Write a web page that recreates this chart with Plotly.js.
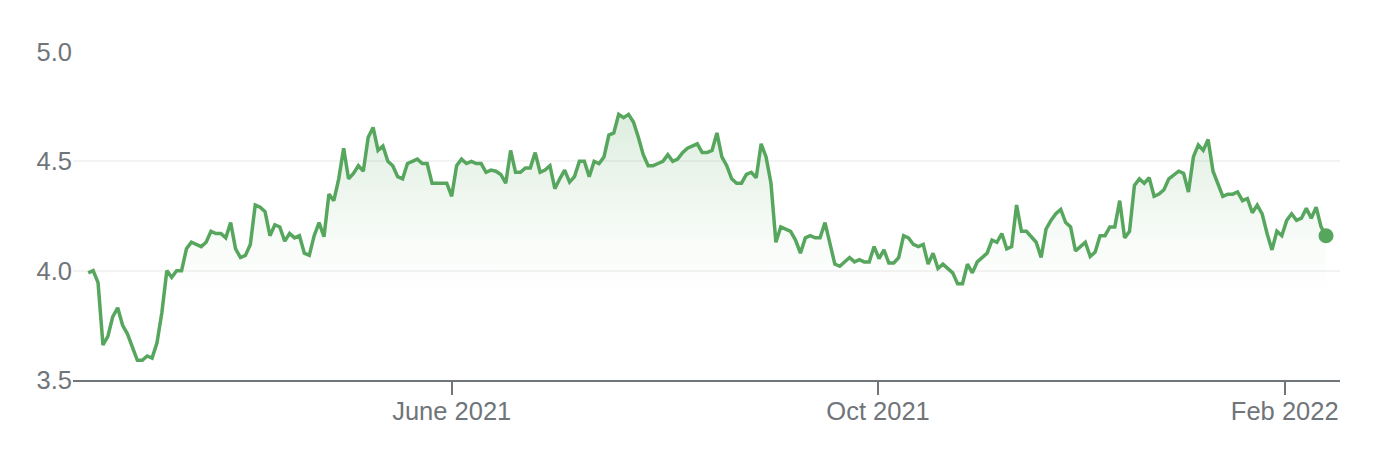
<!DOCTYPE html>
<html>
<head>
<meta charset="utf-8">
<script src="https://cdn.plot.ly/plotly-3.0.1.min.js"></script>
<style>
  html, body { margin: 0; padding: 0; background: #ffffff; }
  #chart { width: 1382px; height: 458px; }
</style>
</head>
<body>
<div id="chart"></div>
<script>
// Daily closing values (one value per trading day)
const segFebApr = [3.99, 4.00, 3.945, 3.66, 3.70, 3.79, 3.83, 3.75, 3.71, 3.65, 3.59, 3.59, 3.61, 3.60, 3.67, 3.81,
  4.00, 3.97, 4.00, 4.00, 4.10, 4.13, 4.12, 4.11, 4.13, 4.18, 4.17, 4.17, 4.15, 4.22, 4.10, 4.06];
const segAprMay = [4.07, 4.12, 4.30, 4.29, 4.27, 4.16, 4.21, 4.20, 4.135, 4.17, 4.15, 4.16, 4.08, 4.07, 4.16, 4.22,
  4.155, 4.35, 4.32, 4.42, 4.56, 4.42, 4.445, 4.48, 4.455, 4.61, 4.655, 4.55, 4.57, 4.50, 4.48];
const segMayJul = [4.43, 4.42, 4.49, 4.50, 4.51, 4.49, 4.49, 4.40, 4.40, 4.40, 4.40, 4.34, 4.48, 4.51, 4.49, 4.50,
  4.49, 4.49, 4.45, 4.46, 4.455, 4.44, 4.40, 4.55, 4.45, 4.45, 4.47, 4.47, 4.54, 4.45, 4.46, 4.48];
const segJulAug = [4.375, 4.42, 4.46, 4.405, 4.43, 4.50, 4.50, 4.43, 4.50, 4.49, 4.52, 4.62, 4.63, 4.715, 4.70, 4.715,
  4.68, 4.61, 4.53, 4.48, 4.48, 4.49, 4.50, 4.53, 4.50, 4.51, 4.54, 4.56, 4.57, 4.58, 4.54];
const segAugOct = [4.54, 4.55, 4.63, 4.52, 4.48, 4.42, 4.40, 4.40, 4.44, 4.45, 4.425, 4.58, 4.52, 4.40, 4.13, 4.20,
  4.19, 4.18, 4.14, 4.08, 4.15, 4.16, 4.15, 4.15, 4.22, 4.125, 4.03, 4.02, 4.04, 4.06, 4.04, 4.05];
const segOctNov = [4.04, 4.04, 4.11, 4.055, 4.095, 4.035, 4.035, 4.06, 4.16, 4.15, 4.12, 4.11, 4.12, 4.03, 4.08, 4.01,
  4.03, 4.01, 3.99, 3.94, 3.94, 4.03, 3.99, 4.04, 4.06, 4.08, 4.14, 4.13, 4.17, 4.10, 4.11];
const segNovDec = [4.30, 4.18, 4.18, 4.155, 4.13, 4.06, 4.19, 4.23, 4.26, 4.28, 4.22, 4.20, 4.09, 4.11, 4.13, 4.065,
  4.085, 4.16, 4.16, 4.20, 4.20, 4.32, 4.15, 4.18, 4.39, 4.42, 4.40, 4.425, 4.34, 4.35, 4.37];
const segDecFeb = [4.42, 4.44, 4.455, 4.445, 4.36, 4.52, 4.575, 4.55, 4.60, 4.455, 4.395, 4.34, 4.35, 4.35, 4.36, 4.32,
  4.33, 4.265, 4.30, 4.26, 4.17, 4.095, 4.18, 4.16, 4.23, 4.26, 4.23, 4.24, 4.285, 4.24, 4.29, 4.20, 4.16];

// Month tick labels and the trading-day index at which each month starts
const tickLabels = ["June 2021", "Oct 2021", "Feb 2022"];
const tickDays = [74, 160.8, 243.6];
const yTicks = [3.5, 4.0, 4.5, 5.0];

const values = [].concat(segFebApr, segAprMay, segMayJul, segJulAug, segAugOct, segOctNov, segNovDec, segDecFeb);
const days = values.map((v, i) => i);

const GREEN = 'rgb(87,166,94)';
const lastX = days[days.length - 1];
const lastY = values[values.length - 1];

const traces = [
  {
    type: 'scatter', mode: 'lines', x: days, y: values,
    line: { color: GREEN, width: 3.5, shape: 'linear' },
    fill: 'tozeroy',
    fillgradient: {
      type: 'vertical',
      start: 3.88, stop: 4.72,
      colorscale: [[0, 'rgba(87,166,94,0)'], [0.3, 'rgba(87,166,94,0.04)'], [1, 'rgba(87,166,94,0.2)']]
    },
    hoverinfo: 'skip', showlegend: false
  },
  {
    type: 'scatter', mode: 'markers', x: [lastX], y: [lastY],
    marker: { color: GREEN, size: 15 },
    hoverinfo: 'skip', showlegend: false
  }
];

const layout = {
  width: 1382, height: 458,
  margin: { l: 73, r: 42, t: 52, b: 78, pad: 0 },
  paper_bgcolor: '#ffffff', plot_bgcolor: '#ffffff',
  font: { family: '"Liberation Sans", Arial, Helvetica, sans-serif', size: 25.5, color: '#70757a' },
  showlegend: false,
  xaxis: {
    range: [-3.1, 254.85],
    tickmode: 'array', tickvals: tickDays, ticktext: tickLabels,
    showgrid: false, zeroline: false,
    showline: true, linecolor: '#70757a', linewidth: 2,
    ticks: 'outside', ticklen: 13, tickwidth: 2, tickcolor: '#70757a',
    ticklabelstandoff: -6,
    tickfont: { size: 25.5, color: '#70757a' },
    fixedrange: true
  },
  yaxis: {
    range: [3.5, 5.0],
    tickmode: 'array', tickvals: yTicks,
    tickformat: '.1f',
    showgrid: true, gridcolor: '#f3f3f3', gridwidth: 2,
    zeroline: false, showline: false, ticks: '',
    ticklabelstandoff: 0,
    tickfont: { size: 25.5, color: '#70757a' },
    fixedrange: true
  }
};

Plotly.newPlot('chart', traces, layout, { displayModeBar: false, staticPlot: true });
</script>
</body>
</html>
